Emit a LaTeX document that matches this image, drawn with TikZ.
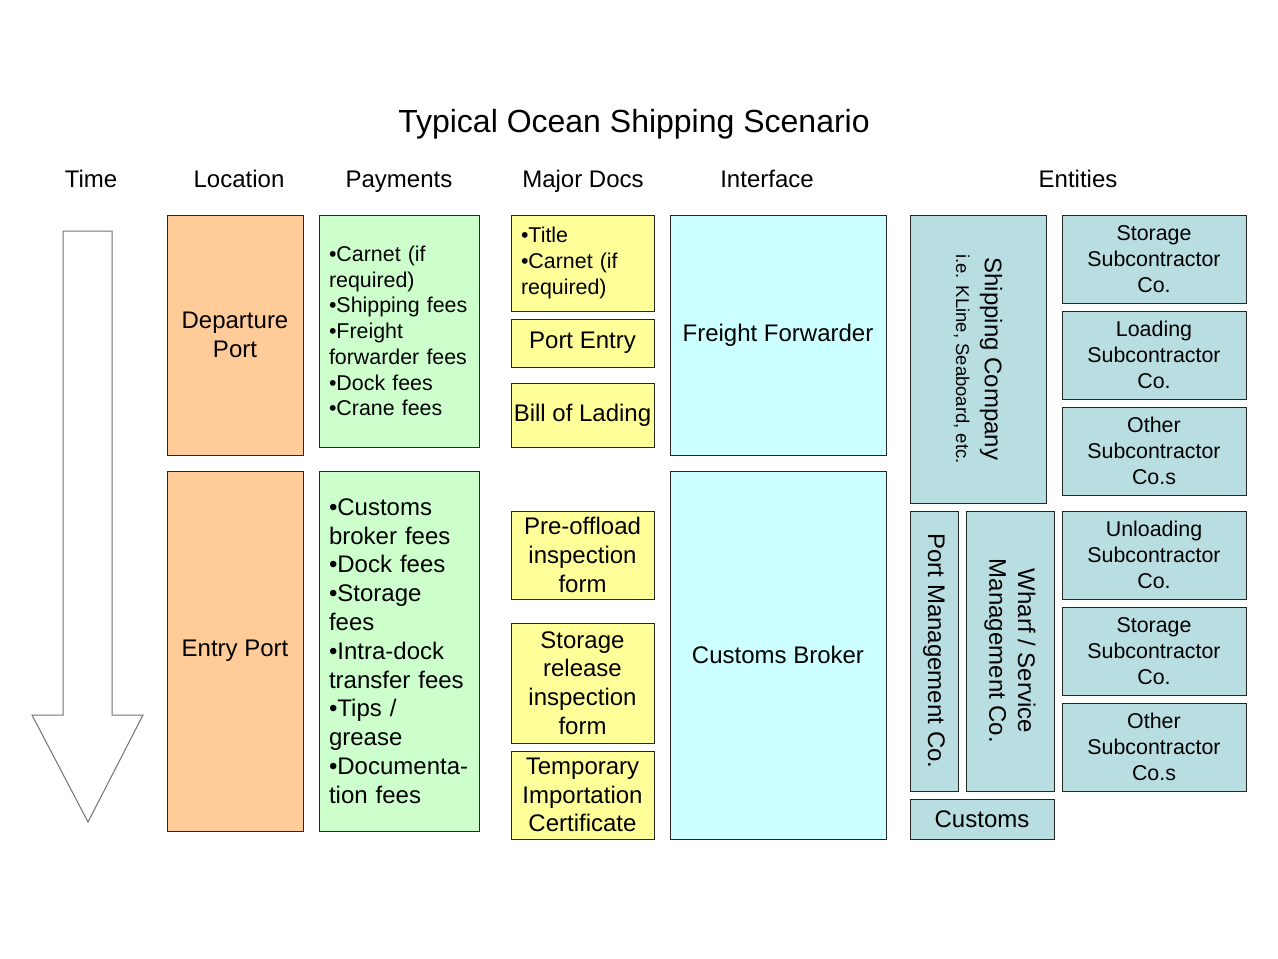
\documentclass[tikz,border=0pt]{standalone}
\usepackage{fontspec}
\setmainfont{Liberation Sans}
\usepackage{tikz}
\usetikzlibrary{positioning,calc}

\definecolor{locfill}{RGB}{255,204,153}
\definecolor{payfill}{RGB}{204,255,204}
\definecolor{docfill}{RGB}{255,255,153}
\definecolor{iffill}{RGB}{204,255,255}
\definecolor{entfill}{RGB}{185,222,226}

\newcommand\bigtxt{\fontsize{24}{28.8}\selectfont}
\newcommand\midtxt{\fontsize{21.4}{25.7}\selectfont}
\newcommand\smalltxt{\fontsize{18.5}{24}\selectfont}

\begin{document}
\begin{tikzpicture}[
    x=1pt, y=-1pt,
    box/.style={draw=black!85, line width=0.9pt, inner sep=2pt, align=center, font=\bigtxt},
    loc/.style={box, fill=locfill, minimum width=136pt},
    pay/.style={box, fill=payfill, minimum width=160pt, text width=140pt, inner xsep=10pt, align=left},
    doc/.style={box, fill=docfill, minimum width=143pt},
    iface/.style={box, fill=iffill, minimum width=216pt},
    ent/.style={box, fill=entfill},
    sub/.style={ent, minimum width=184pt, minimum height=88pt, font=\midtxt},
    head/.style={font=\bigtxt, anchor=base}
]
    \fill[white] (0,0) rectangle (1278,959);
    \useasboundingbox (0,0) rectangle (1278,959);

    \node[font=\fontsize{32}{38}\selectfont, anchor=base] (title) at (634,132) {Typical Ocean Shipping Scenario};
    \foreach \x/\txt/\nm in {91/Time/time, 239/Location/loc, 399/Payments/pay, 583/Major Docs/docs, 767/Interface/iface, 1078/Entities/ent}
        \node[head] (h\nm) at (\x,187.6) {\txt};

    % time arrow
    \draw[black!55, fill=white, line width=1pt] (63,231) -- (112,231) -- (112,715) -- (143,715)
        -- (88,822) -- (32,715) -- (63,715) -- cycle;

    % location
    \node[loc, minimum height=240pt] (dep) at (235,335) {Departure\\Port};
    \node[loc, minimum height=360pt] (entry) at (235,651) {Entry Port};

    % payments
    \node[pay, minimum height=232pt, font=\midtxt] (paydep) at (399,331)
        {•Carnet (if\\required)\\•Shipping fees\\•Freight\\forwarder fees\\•Dock fees\\•Crane fees};
    \node[pay, minimum height=360pt] (payentry) at (399,651)
        {•Customs\\broker fees\\•Dock fees\\•Storage\\fees\\•Intra-dock\\transfer fees\\•Tips /\\grease\\•Documenta-\\tion fees};

    % major docs
    \node[doc, minimum height=96pt, text width=123pt, inner xsep=10pt, align=left, font=\midtxt] (doctitle) at (582.5,263)
        {•Title\\•Carnet (if\\required)};
    \node[doc, minimum height=48pt] (portentry) at (582.5,343) {Port Entry};
    \node[doc, minimum height=64pt] (lading) at (582.5,415) {Bill of Lading};
    \node[doc, minimum height=88pt] (preoff) at (582.5,555) {Pre-offload\\inspection\\form};
    \node[doc, minimum height=120pt] (storrel) at (582.5,683) {Storage\\release\\inspection\\form};
    \node[doc, minimum height=88pt] (tempimp) at (582.5,795) {Temporary\\Importation\\Certificate};

    % interface
    \node[iface, minimum height=240pt] (forwarder) at (778,335) {Freight Forwarder};
    \node[iface, minimum height=368pt] (broker) at (778,655) {Customs Broker};

    % entities
    \node[ent, rotate=-90, minimum width=288pt, minimum height=136pt] (shipco) at (978,359)
        {Shipping Company\\{\smalltxt i.e. KLine, Seaboard, etc.}};
    \node[ent, rotate=-90, minimum width=280pt, minimum height=48pt] (portmgmt) at (934,651) {Port Management Co.};
    \node[ent, rotate=-90, minimum width=280pt, minimum height=88pt] (wharf) at (1010,651) {Wharf / Service\\Management Co.};
    \node[ent, minimum width=144pt, minimum height=40pt] (customs) at (982,819) {Customs};

    \foreach \y/\nm/\txt in {259/stordep/{Storage\\Subcontractor\\Co.}, 355/loading/{Loading\\Subcontractor\\Co.},
                             451/othdep/{Other\\Subcontractor\\Co.s}, 555/unloading/{Unloading\\Subcontractor\\Co.},
                             651/storentry/{Storage\\Subcontractor\\Co.}, 747/othentry/{Other\\Subcontractor\\Co.s}}
        \node[sub] (\nm) at (1154,\y) {\txt};
\end{tikzpicture}
\end{document}
